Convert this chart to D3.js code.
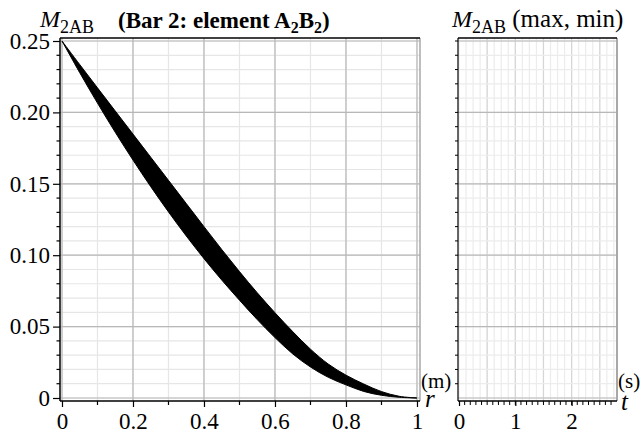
<!DOCTYPE html>
<html>
<head>
<meta charset="utf-8">
<script src="https://cdn.jsdelivr.net/npm/d3@7/dist/d3.min.js"></script>
<style>
  html, body { margin: 0; padding: 0; background: #fff; }
  svg { display: block; }
  svg text { font-family: "Liberation Serif", "Times New Roman", Times, "DejaVu Serif", serif !important; fill: #000; }
</style>
</head>
<body>
<svg id="chart" width="642" height="435"></svg>
<script>
// Radial position r (m) where the bending-moment envelope is sampled
const rValues = [0, 0.05, 0.1, 0.15, 0.2, 0.25, 0.3, 0.35, 0.4, 0.45, 0.5,
                 0.55, 0.6, 0.65, 0.7, 0.75, 0.8, 0.85, 0.9, 0.95, 1];
// Upper and lower bound of M2AB over all time steps
const upperM = [0.25, 0.2335, 0.2172, 0.2010, 0.1848, 0.1686, 0.1524, 0.1362, 0.1200, 0.1040, 0.0885,
                0.0737, 0.0597, 0.0465, 0.0342, 0.0238, 0.0160, 0.0098, 0.0045, 0.0012, 0];
const lowerM = [0.25, 0.2278, 0.2065, 0.1861, 0.1666, 0.1480, 0.1303, 0.1135, 0.0976, 0.0826, 0.0685,
                0.0549, 0.0423, 0.0309, 0.0217, 0.0145, 0.0092, 0.0046, 0.0019, 0.0005, 0];
// Tick labels
const rTicks = [0, 0.2, 0.4, 0.6, 0.8, 1];
const mTicks = [0, 0.05, 0.10, 0.15, 0.20, 0.25];
const mTickLabels = ["0", "0.05", "0.10", "0.15", "0.20", "0.25"];
const tTicks = [0, 1, 2];

const svg = d3.select("#chart");

// ---------- left panel: M2AB versus r ----------
const x = d3.scaleLinear().domain([-0.0056, 1.0085]).range([60, 420]);
const y = d3.scaleLinear().domain([-0.0021, 0.2521]).range([401, 38]);

const left = svg.append("g");

// minor grid
left.append("g").selectAll("line")
  .data(d3.range(0, 1.0001, 0.1))
  .join("line")
  .attr("x1", d => x(d)).attr("x2", d => x(d))
  .attr("y1", y.range()[1]).attr("y2", y.range()[0])
  .attr("stroke", "#e6e6e6").attr("stroke-width", 1.2);
left.append("g").selectAll("line")
  .data(d3.range(0, 0.2501, 0.01))
  .join("line")
  .attr("x1", x.range()[0]).attr("x2", x.range()[1])
  .attr("y1", d => y(d)).attr("y2", d => y(d))
  .attr("stroke", "#e6e6e6").attr("stroke-width", 1.2);
// major grid
left.append("g").selectAll("line")
  .data(rTicks)
  .join("line")
  .attr("x1", d => x(d)).attr("x2", d => x(d))
  .attr("y1", y.range()[1]).attr("y2", y.range()[0])
  .attr("stroke", "#b8b8b8").attr("stroke-width", 1.2);
left.append("g").selectAll("line")
  .data(mTicks)
  .join("line")
  .attr("x1", x.range()[0]).attr("x2", x.range()[1])
  .attr("y1", d => y(d)).attr("y2", d => y(d))
  .attr("stroke", "#b8b8b8").attr("stroke-width", 1.2);

// right border and top border
left.append("line")
  .attr("x1", 420).attr("x2", 420).attr("y1", 38).attr("y2", 401)
  .attr("stroke", "#a8a8a8").attr("stroke-width", 1.5);
left.append("line")
  .attr("x1", 60).attr("x2", 420).attr("y1", 38).attr("y2", 38)
  .attr("stroke", "#000").attr("stroke-width", 1.5);

// envelope band
const band = rValues.map((r, i) => ({ r, hi: upperM[i], lo: lowerM[i] }));
left.append("path")
  .datum(band)
  .attr("fill", "#000")
  .attr("stroke", "#000")
  .attr("stroke-width", 1)
  .attr("d", d3.area()
    .x(d => x(d.r))
    .y0(d => y(d.lo))
    .y1(d => y(d.hi))
    .curve(d3.curveCatmullRom));

// axes
const xAxis = d3.axisBottom(x).tickValues(rTicks).tickSize(6).tickFormat(d3.format("~g"));
const gx = left.append("g").attr("transform", "translate(0,401)").call(xAxis);
gx.select(".domain").attr("stroke", "#000").attr("stroke-width", 1.5).attr("d", "M60,0H420");
gx.selectAll(".tick line").attr("stroke-width", 1.2);
gx.selectAll(".tick text").attr("font-size", 23).attr("y", 12).attr("dy", "0.71em");
left.append("g").attr("transform", "translate(0,401)").selectAll("line")
  .data(d3.range(0.1, 1.0, 0.2))
  .join("line")
  .attr("x1", d => x(d)).attr("x2", d => x(d)).attr("y1", 0).attr("y2", 4)
  .attr("stroke", "#000").attr("stroke-width", 1.2);

const yAxis = d3.axisLeft(y).tickValues(mTicks).tickSize(7)
  .tickFormat((d, i) => mTickLabels[i]);
const gy = left.append("g").attr("transform", "translate(60,0)").call(yAxis);
gy.select(".domain").attr("stroke", "#000").attr("stroke-width", 1.5).attr("d", "M0,38V401");
gy.selectAll(".tick line").attr("stroke-width", 1.2);
gy.selectAll(".tick text").attr("font-size", 23).attr("x", -10);
left.append("g").attr("transform", "translate(60,0)").selectAll("line")
  .data(d3.range(0.01, 0.25, 0.01).filter(v => Math.abs(v / 0.05 - Math.round(v / 0.05)) > 1e-6))
  .join("line")
  .attr("x1", -3.5).attr("x2", 0).attr("y1", d => y(d)).attr("y2", d => y(d))
  .attr("stroke", "#000").attr("stroke-width", 1.2);

// ---------- right panel: max/min over time ----------
const t = d3.scaleLinear().domain([-0.018, 2.806]).range([458, 617]);
const right = svg.append("g");

right.append("g").selectAll("line")
  .data(d3.range(0, 2.81, 0.125))
  .join("line")
  .attr("x1", d => t(d)).attr("x2", d => t(d))
  .attr("y1", 38).attr("y2", 401)
  .attr("stroke", "#ececec").attr("stroke-width", 1.2);
right.append("g").selectAll("line")
  .data(d3.range(0.5, 2.81, 0.5))
  .join("line")
  .attr("x1", d => t(d)).attr("x2", d => t(d))
  .attr("y1", 38).attr("y2", 401)
  .attr("stroke", "#d6d6d6").attr("stroke-width", 1.2);
right.append("g").selectAll("line")
  .data(d3.range(0, 0.2501, 0.01))
  .join("line")
  .attr("x1", 458).attr("x2", 617)
  .attr("y1", d => y(d)).attr("y2", d => y(d))
  .attr("stroke", "#ececec").attr("stroke-width", 1.2);
right.append("g").selectAll("line")
  .data(mTicks)
  .join("line")
  .attr("x1", 458).attr("x2", 617)
  .attr("y1", d => y(d)).attr("y2", d => y(d))
  .attr("stroke", "#b8b8b8").attr("stroke-width", 1.2);

right.append("line")
  .attr("x1", 617).attr("x2", 617).attr("y1", 38).attr("y2", 401)
  .attr("stroke", "#a8a8a8").attr("stroke-width", 2);
right.append("line")
  .attr("x1", 458).attr("x2", 617).attr("y1", 38).attr("y2", 38)
  .attr("stroke", "#000").attr("stroke-width", 1.5);

const tAxis = d3.axisBottom(t).tickValues(tTicks).tickSize(5).tickFormat(d3.format("d"));
const gt = right.append("g").attr("transform", "translate(0,401)").call(tAxis);
gt.select(".domain").attr("stroke", "#000").attr("stroke-width", 1.5).attr("d", "M458,0H617");
gt.selectAll(".tick line").attr("stroke-width", 1.2);
gt.selectAll(".tick text").attr("font-size", 23).attr("y", 12).attr("dy", "0.71em");
right.append("g").attr("transform", "translate(0,401)").selectAll("line")
  .data(d3.range(0.1, 2.8, 0.1))
  .join("line")
  .attr("x1", d => t(d)).attr("x2", d => t(d)).attr("y1", 0).attr("y2", 4)
  .attr("stroke", "#000").attr("stroke-width", 1);

right.append("line")
  .attr("x1", 458).attr("x2", 458).attr("y1", 38).attr("y2", 401)
  .attr("stroke", "#000").attr("stroke-width", 1.2);
right.append("g").selectAll("line")
  .data(d3.range(0.01, 0.2501, 0.01))
  .join("line")
  .attr("x1", 455).attr("x2", 458).attr("y1", d => y(d)).attr("y2", d => y(d))
  .attr("stroke", "#000").attr("stroke-width", 1);

// ---------- titles and axis labels ----------
function subscriptLabel(parent, xPos, yPos, main, sub, rest) {
  const txt = parent.append("text").attr("x", xPos).attr("y", yPos);
  txt.append("tspan").attr("font-style", "italic").attr("font-size", 24).text(main);
  txt.append("tspan").attr("font-size", 18).attr("dy", 6).text(sub);
  if (rest) txt.append("tspan").attr("font-size", 25).attr("dy", -6).text(rest);
  return txt;
}
subscriptLabel(svg, 40, 27, "M", "2AB");
subscriptLabel(svg, 452, 27, "M", "2AB", " (max, min)");

const title = svg.append("text").attr("x", 118).attr("y", 28)
  .attr("font-weight", "bold").attr("font-size", 23);
title.append("tspan").text("(Bar 2: element A");
title.append("tspan").attr("font-size", 16).attr("dy", 5).text("2");
title.append("tspan").attr("dy", -5).text("B");
title.append("tspan").attr("font-size", 16).attr("dy", 5).text("2");
title.append("tspan").attr("dy", -5).text(")");

svg.append("text").attr("x", 421).attr("y", 388).attr("font-size", 21).text("(m)");
svg.append("text").attr("x", 425).attr("y", 407).attr("font-size", 25)
  .attr("font-style", "italic").text("r");
svg.append("text").attr("x", 618).attr("y", 388).attr("font-size", 21).text("(s)");
svg.append("text").attr("x", 621).attr("y", 410).attr("font-size", 25)
  .attr("font-style", "italic").text("t");
</script>
</body>
</html>
